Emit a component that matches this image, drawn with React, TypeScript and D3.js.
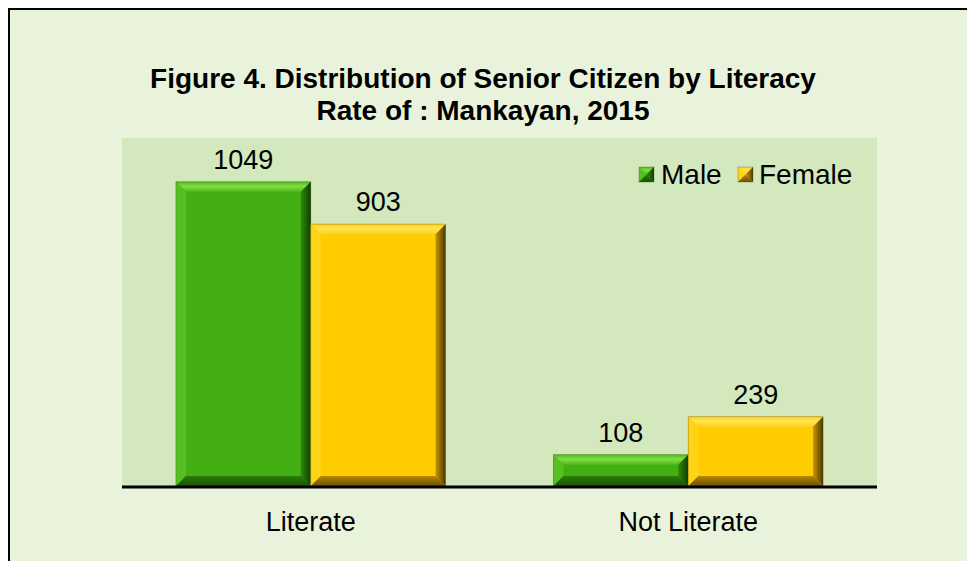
import React from 'react';
import * as d3 from 'd3';

const categories = ['Literate', 'Not Literate'];
const seriesNames = ['Male', 'Female'];
const maleValues = [1049, 108];
const femaleValues = [903, 239];
const titleLines = ['Figure 4. Distribution of Senior Citizen by Literacy', 'Rate of : Mankayan, 2015'];
const yMax = 1200;

const W = 967;
const H = 561;
const plot = { left: 122, right: 877, top: 138, bottom: 486 };
const FONT = 'Liberation Sans, Arial, sans-serif';

type Pal = { face: string; topA: string; topB: string; left: string; rightA: string; rightB: string; bottom: string };
const palettes: Record<string, Pal> = {
  Male: { face: '#43af12', topA: '#4fbb1c', topB: '#86dc45', left: '#55c021', rightA: '#2e8a09', rightB: '#0f3f02', bottom: '#2b7c08' },
  Female: { face: '#ffcc00', topA: '#ffd21c', topB: '#ffe453', left: '#ffd317', rightA: '#c99500', rightB: '#4a3800', bottom: '#b88900' },
};

function BevelBar({ id, x, y, w, h, pal, bev }: { id: string; x: number; y: number; w: number; h: number; pal: Pal; bev: number }) {
  const b = Math.min(bev, h / 2, w / 2);
  const x1 = x + w;
  const y1 = y + h;
  const pts = (p: number[][]) => p.map((q) => q.join(',')).join(' ');
  return (
    <g>
      <defs>
        <linearGradient id={`${id}-top`} x1="0" y1="0" x2="0" y2="1">
          <stop offset="0" stopColor={pal.topA} />
          <stop offset="0.45" stopColor={pal.topB} />
          <stop offset="1" stopColor={pal.topA} />
        </linearGradient>
        <linearGradient id={`${id}-right`} x1="0" y1="0" x2="1" y2="0">
          <stop offset="0" stopColor={pal.rightA} />
          <stop offset="1" stopColor={pal.rightB} />
        </linearGradient>
        <linearGradient id={`${id}-bottom`} x1="0" y1="0" x2="0" y2="1">
          <stop offset="0" stopColor={pal.bottom} />
          <stop offset="1" stopColor={pal.rightB} stopOpacity="0.8" />
        </linearGradient>
      </defs>
      <rect x={x} y={y} width={w} height={h} fill={pal.face} />
      <polygon points={pts([[x, y], [x1, y], [x1 - b, y + b], [x + b, y + b]])} fill={`url(#${id}-top)`} />
      <polygon points={pts([[x, y], [x + b, y + b], [x + b, y1 - b], [x, y1]])} fill={pal.left} />
      <polygon points={pts([[x1, y], [x1, y1], [x1 - b, y1 - b], [x1 - b, y + b]])} fill={`url(#${id}-right)`} />
      <polygon points={pts([[x, y1], [x + b, y1 - b], [x1 - b, y1 - b], [x1, y1]])} fill={`url(#${id}-bottom)`} />
      <rect x={x} y={y} width={w} height={h} fill="none" stroke="rgba(60,60,20,0.35)" strokeWidth={0.8} />
    </g>
  );
}

export default function App() {
  const x0 = d3.scaleBand<string>().domain(categories).range([plot.left, plot.right]).paddingInner(0).paddingOuter(0);
  const x1 = d3.scaleBand<string>().domain(seriesNames).range([0, x0.bandwidth()]).paddingInner(0).paddingOuter(0.4);
  const y = d3.scaleLinear().domain([0, yMax]).range([plot.bottom, plot.top]);
  const series = [
    { name: 'Male', values: maleValues },
    { name: 'Female', values: femaleValues },
  ];
  const legendItems = [
    { name: 'Male', mx: 639, tx: 661 },
    { name: 'Female', mx: 738, tx: 759 },
  ];

  return (
    <svg width={W} height={H} style={{ position: 'absolute', left: 0, top: 0 }} fontFamily={FONT}>
      <rect x={0} y={0} width={W} height={H} fill="#ffffff" />
      <rect x={9} y={9} width={W + 20} height={H + 20} fill="#e9f3dc" stroke="#000" strokeWidth={2} />
      <rect x={plot.left} y={plot.top} width={plot.right - plot.left} height={plot.bottom - plot.top} fill="#d3e8bc" />
      {titleLines.map((t, i) => (
        <text key={i} x={483} y={88 + i * 32} textAnchor="middle" fontSize={28} fontWeight="bold" fill="#000">
          {t}
        </text>
      ))}
      {series.map((s) =>
        categories.map((c, ci) => {
          const v = s.values[ci];
          const bx = (x0(c) as number) + (x1(s.name) as number);
          const bw = x1.bandwidth();
          const by = y(v);
          return (
            <g key={`${s.name}-${c}`}>
              <BevelBar id={`b-${s.name}-${ci}`} x={bx} y={by} w={bw} h={plot.bottom - by} pal={palettes[s.name]} bev={10} />
              <text x={bx + bw / 2} y={by - 13} textAnchor="middle" fontSize={27} fill="#000">
                {v}
              </text>
            </g>
          );
        })
      )}
      <line x1={plot.left} x2={plot.right} y1={plot.bottom + 1} y2={plot.bottom + 1} stroke="#000" strokeWidth={3} />
      {categories.map((c) => (
        <text key={c} x={(x0(c) as number) + x0.bandwidth() / 2} y={531} textAnchor="middle" fontSize={27} fill="#000">
          {c}
        </text>
      ))}
      {legendItems.map((l) => (
        <g key={l.name}>
          <BevelBar id={`lg-${l.name}`} x={l.mx} y={167} w={15} h={15} pal={palettes[l.name]} bev={7} />
          <text x={l.tx} y={184} fontSize={28} fill="#000">
            {l.name}
          </text>
        </g>
      ))}
    </svg>
  );
}
